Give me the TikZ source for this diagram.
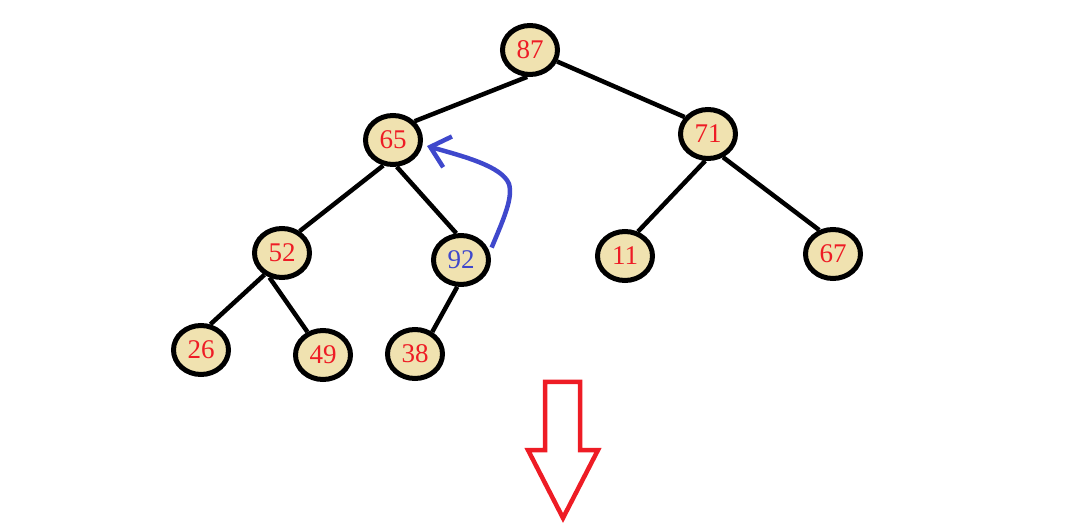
\documentclass[tikz,border=0pt]{standalone}
\usepackage{fontspec}
\setmainfont{Liberation Serif}
\usetikzlibrary{shapes.geometric,arrows.meta}
\definecolor{nodefill}{HTML}{F0E2B0}
\definecolor{numred}{HTML}{EE1C25}
\definecolor{numblue}{HTML}{3F48CC}
\begin{document}
\begin{tikzpicture}[x=1pt,y=-1pt,
  heapnode/.style={ellipse,draw=black,line width=5pt,fill=nodefill,
    minimum width=55pt,minimum height=49pt,inner sep=0pt,
    text=numred,font=\fontsize{27}{29}\selectfont},
  edge/.style={draw=black,line width=4.5pt},
  swaparrow/.style={draw=numblue,line width=4.5pt,
    -{Straight Barb[length=18pt,width=32pt,line width=4.5pt]}},
  bigarrow/.style={draw=numred,line width=4.5pt,line join=miter}]
\useasboundingbox (0,0) rectangle (1068,526);
\node[heapnode] (n87) at (530,50) {87};
\node[heapnode] (n65) at (393,140) {65};
\node[heapnode] (n71) at (708,134) {71};
\node[heapnode] (n52) at (282,253) {52};
\node[heapnode,text=numblue] (n92) at (461,260) {92};
\node[heapnode] (n11) at (625,256) {11};
\node[heapnode] (n67) at (833,254) {67};
\node[heapnode] (n26) at (201,350) {26};
\node[heapnode] (n49) at (323,355) {49};
\node[heapnode] (n38) at (415,354) {38};
\draw[edge] (n87.264) -- (n65.41);
\draw[edge] (n87.337) -- (n71.144);
\draw[edge] (n65.249) -- (n52.51);
\draw[edge] (n65.278) -- (n92.100);
\draw[edge] (n71.264) -- (n11.62);
\draw[edge] (n71.303) -- (n67.120);
\draw[edge] (n52.231) -- (n26.70);
\draw[edge] (n52.243) -- (n49.124);
\draw[edge] (n92.262) -- (n38.52);
\coordinate (bend) at (509,184);
\draw[swaparrow] ([xshift=4pt]n92.25) .. controls (504,218) and (513,198) .. (bend)
  .. controls (502,166) and (462,156) .. ([xshift=4pt,yshift=-6pt]n65.east);
\draw[bigarrow] (545,382) -- (580,382) -- (580,450) -- (598,450) -- (563,518)
  -- (528,450) -- (545,450) -- cycle;
\end{tikzpicture}
\end{document}
